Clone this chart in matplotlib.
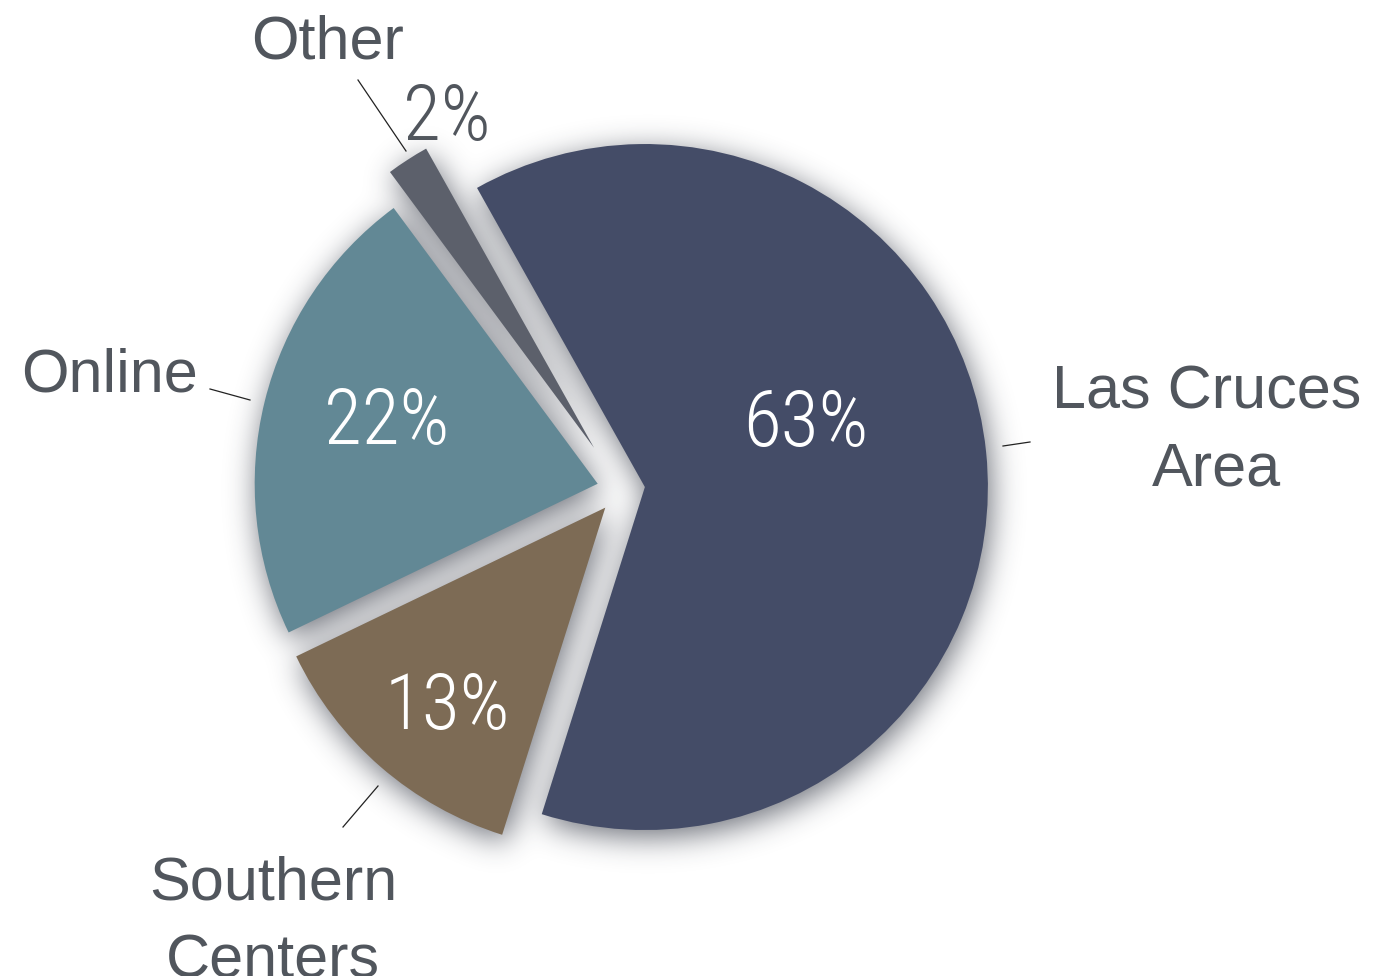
import numpy as np
import matplotlib
matplotlib.use("Agg")
import matplotlib.pyplot as plt
from matplotlib.figure import Figure
from matplotlib.backends.backend_agg import FigureCanvasAgg

# ---- data ----
categories = ["Las Cruces\nArea", "Southern\nCenters", "Online", "Other"]
shares = [63, 13, 22, 2]
pct_labels = ["63%", "13%", "22%", "2%"]

# ---- style / layout ----
colors = ["#444c67", "#7d6b55", "#628895", "#5c606b"]
explode = [0.07, 0.07, 0.07, 0.145]
START = 119.3
W, H, DPI = 1400, 976, 100
CX, CY, R = 621.0, 489.5, 343.0          # pie centre & radius in pixels
XL = (-CX / R, (W - CX) / R)
YL = (-(H - CY) / R, CY / R)
LABEL_COLOR = "#51565d"
PCT_FAMILY = ["Roboto Condensed", "Open Sans Condensed", "DejaVu Sans"]

def px(x, y):
    return (x - CX) / R, (CY - y) / R

def draw_pie(ax, fcs, z=2):
    w, _ = ax.pie(shares, colors=fcs, explode=explode, startangle=START,
                  counterclock=False, radius=1.0,
                  wedgeprops=dict(linewidth=0, zorder=z))
    ax.set_aspect("auto")
    ax.set_xlim(*XL)
    ax.set_ylim(*YL)
    ax.set_axis_off()
    return w

# ---- shadow mask rendered offscreen ----
f2 = Figure(figsize=(W / DPI, H / DPI), dpi=DPI)
FigureCanvasAgg(f2)
a2 = f2.add_axes([0, 0, 1, 1])
draw_pie(a2, ["k"] * len(shares))
f2.canvas.draw()
buf = np.asarray(f2.canvas.buffer_rgba()).astype(float)
mask = 1.0 - buf[..., 0] / 255.0

def blur(a, sigma):
    r = int(3 * sigma)
    k = np.exp(-0.5 * (np.arange(-r, r + 1) / sigma) ** 2)
    k /= k.sum()
    a = np.apply_along_axis(lambda m: np.convolve(m, k, mode="same"), 1, a)
    a = np.apply_along_axis(lambda m: np.convolve(m, k, mode="same"), 0, a)
    return a

sh = blur(mask, 15.0)
sh = np.roll(sh, 7, axis=0)
sh = np.roll(sh, 3, axis=1)
shadow = np.zeros((H, W, 4))
shadow[..., 0] = 0.16
shadow[..., 1] = 0.18
shadow[..., 2] = 0.23
shadow[..., 3] = np.clip(sh * 0.68, 0, 1)

# ---- main figure ----
fig = plt.figure(figsize=(W / DPI, H / DPI), dpi=DPI)
ax = fig.add_axes([0, 0, 1, 1])
draw_pie(ax, colors, z=2)
ax.imshow(shadow, extent=(XL[0], XL[1], YL[0], YL[1]), origin="upper",
          zorder=1, interpolation="nearest", aspect="auto")
ax.set_xlim(*XL)
ax.set_ylim(*YL)

# category labels: (centre x px per line, first baseline px)
label_pos = [((1207, 1216), 408), ((273, 273), 900), ((110,), 391), ((328,), 58)]
LINE_GAP = 77
for txt, (xs, yb) in zip(categories, label_pos):
    for i, line in enumerate(txt.split("\n")):
        ax.text(*px(xs[i], yb + i * LINE_GAP), line, ha="center", va="baseline",
                fontsize=44, color=LABEL_COLOR, family="Liberation Sans",
                zorder=5)

# percentage labels: (centre x px, baseline px, colour)
pct_pos = [(806, 446, "white"), (447, 729, "white"),
           (387, 444, "white"), (447, 140, LABEL_COLOR)]
for txt, (x, yb, c) in zip(pct_labels, pct_pos):
    ax.text(*px(x, yb), txt, ha="center", va="baseline", fontsize=56,
            color=c, family=PCT_FAMILY, fontstretch="condensed",
            fontweight="light", zorder=5)

# leader lines
leaders = [((1003, 446), (1030, 442)), ((343, 827), (378, 786)),
           ((210, 389), (250, 400)), ((358, 80), (406, 151))]
for p0, p1 in leaders:
    (x0, y0), (x1, y1) = px(*p0), px(*p1)
    ax.plot([x0, x1], [y0, y1], color="#222222", lw=0.9, zorder=5)

fig.savefig("out.png", dpi=DPI)
